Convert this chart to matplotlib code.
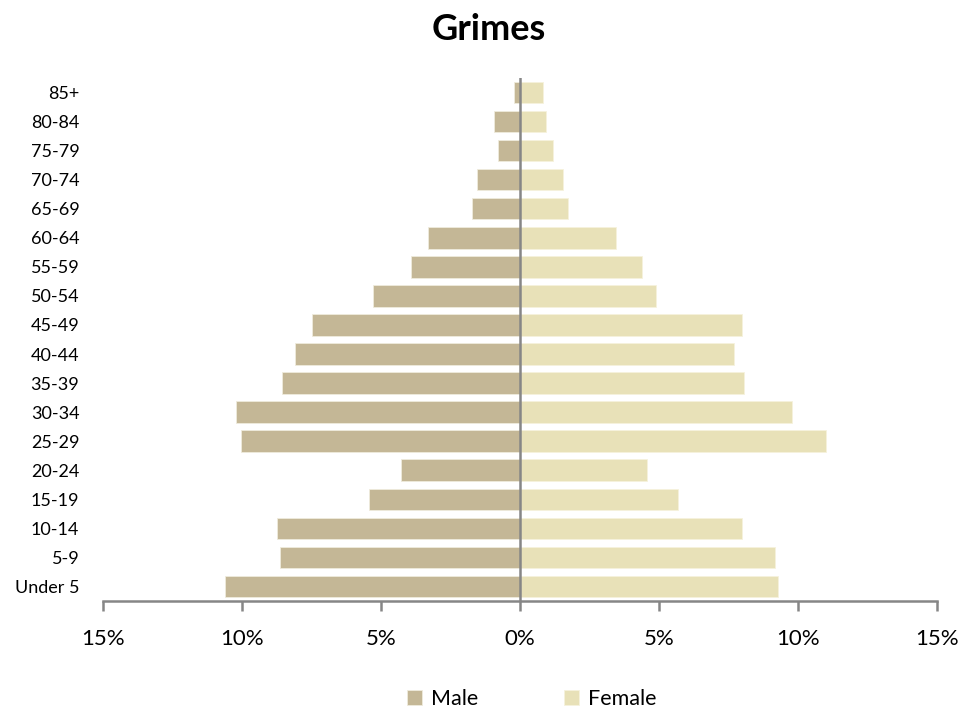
import numpy as np
import matplotlib.pyplot as plt
from matplotlib.ticker import FuncFormatter

plt.rcParams['font.family'] = ['Lato', 'DejaVu Sans']

# Donnees (en %), de "Under 5" jusqu'a "85+"
groupes = ["Under 5", "5-9", "10-14", "15-19", "20-24", "25-29", "30-34", "35-39",
           "40-44", "45-49", "50-54", "55-59", "60-64", "65-69", "70-74", "75-79",
           "80-84", "85+"]
hommes = [10.60, 8.64, 8.73, 5.43, 4.29, 10.03, 10.23, 8.57,
          8.10, 7.48, 5.27, 3.93, 3.31, 1.71, 1.55, 0.78, 0.93, 0.20]
femmes = [9.28, 9.18, 7.99, 5.67, 4.58, 11.00, 9.80, 8.04,
          7.68, 7.99, 4.89, 4.39, 3.45, 1.74, 1.53, 1.17, 0.92, 0.81]

c_h = "#C4B796"
c_f = "#E8E1B8"
gris = "#868686"

fig = plt.figure(figsize=(9.79, 7.13), dpi=100)
ax = fig.add_axes([0.1052, 0.1571, 0.8519, 0.7335])

y = np.arange(len(groupes))
ax.barh(y, -np.array(hommes), height=0.74, color=c_h, edgecolor="#EFEBDD", linewidth=0.6, label="Male")
ax.barh(y, femmes, height=0.74, color=c_f, edgecolor="#F6F2DD", linewidth=0.6, label="Female")

ax.axvline(0, color=gris, linewidth=1.8, zorder=3)

ax.set_xlim(-15, 15)
ax.set_ylim(-0.5, len(groupes) - 0.5)
ax.set_yticks(y)
ax.set_yticklabels(groupes, fontsize=13)
ax.tick_params(axis="y", length=0, pad=17)

ax.set_xticks([-15, -10, -5, 0, 5, 10, 15])
ax.xaxis.set_major_formatter(FuncFormatter(lambda v, p: f"{abs(v):.0f}%"))
ax.tick_params(axis="x", direction="out", length=7, width=1.8, color=gris, pad=13, labelsize=16)

for s in ["top", "right", "left"]:
    ax.spines[s].set_visible(False)
ax.spines["bottom"].set_color(gris)
ax.spines["bottom"].set_linewidth(1.8)

fig.suptitle("Grimes", fontsize=26, fontweight="bold", x=0.499, y=0.982)

fig.legend(loc="lower center", ncol=2, frameon=False, fontsize=15.5,
           handlelength=0.7, handleheight=0.7, handletextpad=0.4,
           columnspacing=4.0, bbox_to_anchor=(0.543, -0.022))

fig.savefig("out.png", dpi=100)
